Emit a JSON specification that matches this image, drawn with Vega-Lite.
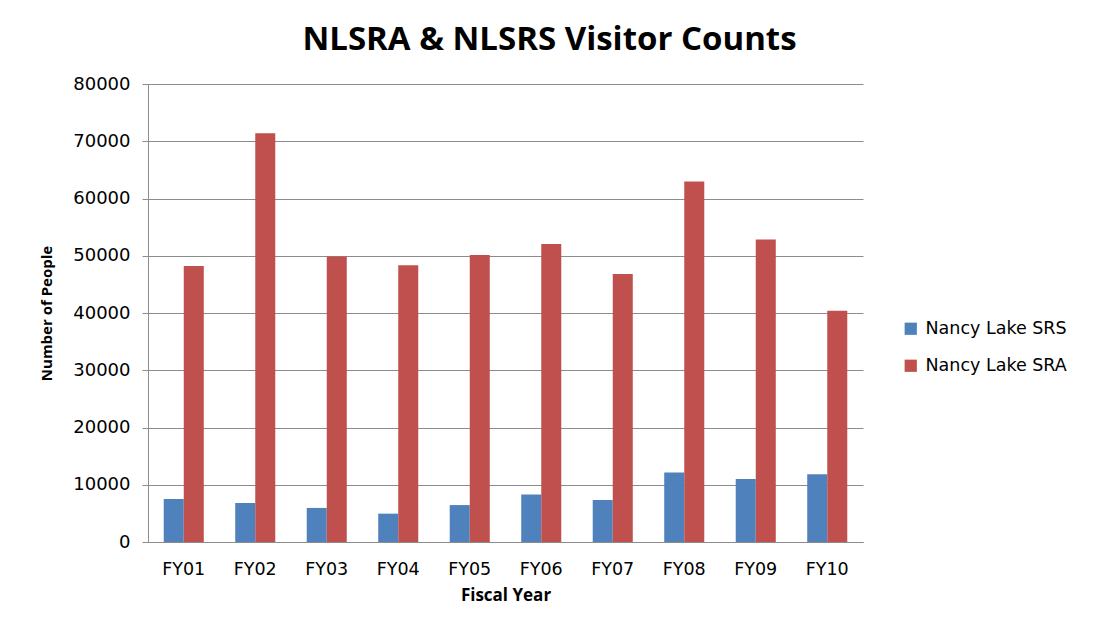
{
  "$schema": "https://vega.github.io/schema/vega-lite/v6.json",
  "autosize": "none",
  "width": 715,
  "height": 458,
  "padding": {"left": 148, "top": 84, "right": 233, "bottom": 89},
  "background": "white",
  "title": {
    "text": "NLSRA & NLSRS Visitor Counts",
    "anchor": "middle",
    "frame": "group",
    "dx": 44,
    "offset": -8,
    "baseline": "alphabetic",
    "font": "Open Sans",
    "fontSize": 33,
    "fontWeight": "bold",
    "color": "#000000"
  },
  "data": {
    "values": [
      {"year": "FY01", "series": "Nancy Lake SRS", "visitors": 7500},
      {"year": "FY01", "series": "Nancy Lake SRA", "visitors": 48200},
      {"year": "FY02", "series": "Nancy Lake SRS", "visitors": 6800},
      {"year": "FY02", "series": "Nancy Lake SRA", "visitors": 71400},
      {"year": "FY03", "series": "Nancy Lake SRS", "visitors": 5950},
      {"year": "FY03", "series": "Nancy Lake SRA", "visitors": 49850},
      {"year": "FY04", "series": "Nancy Lake SRS", "visitors": 4950},
      {"year": "FY04", "series": "Nancy Lake SRA", "visitors": 48350},
      {"year": "FY05", "series": "Nancy Lake SRS", "visitors": 6450},
      {"year": "FY05", "series": "Nancy Lake SRA", "visitors": 50150},
      {"year": "FY06", "series": "Nancy Lake SRS", "visitors": 8300},
      {"year": "FY06", "series": "Nancy Lake SRA", "visitors": 52050},
      {"year": "FY07", "series": "Nancy Lake SRS", "visitors": 7350},
      {"year": "FY07", "series": "Nancy Lake SRA", "visitors": 46800},
      {"year": "FY08", "series": "Nancy Lake SRS", "visitors": 12150},
      {"year": "FY08", "series": "Nancy Lake SRA", "visitors": 62950},
      {"year": "FY09", "series": "Nancy Lake SRS", "visitors": 11000},
      {"year": "FY09", "series": "Nancy Lake SRA", "visitors": 52850},
      {"year": "FY10", "series": "Nancy Lake SRS", "visitors": 11850},
      {"year": "FY10", "series": "Nancy Lake SRA", "visitors": 40400}
    ]
  },
  "mark": {"type": "bar"},
  "encoding": {
    "x": {
      "field": "year",
      "type": "nominal",
      "sort": null,
      "scale": {"paddingInner": 0.44, "paddingOuter": 0.22},
      "axis": {
        "title": "Fiscal Year",
        "labelAngle": 0,
        "labelFont": "DejaVu Sans",
        "labelFontSize": 17.5,
        "labelColor": "#000000",
        "labelPadding": 18,
        "ticks": false,
        "domainColor": "#8c8c8c",
        "titleFont": "Open Sans",
        "titleFontSize": 17,
        "titleFontWeight": "bold",
        "titleColor": "#000000",
        "titlePadding": 10
      }
    },
    "xOffset": {"field": "series", "type": "nominal", "sort": ["Nancy Lake SRS", "Nancy Lake SRA"]},
    "y": {
      "field": "visitors",
      "type": "quantitative",
      "scale": {"domain": [0, 80000], "nice": false},
      "axis": {
        "title": "Number of People",
        "values": [0, 10000, 20000, 30000, 40000, 50000, 60000, 70000, 80000],
        "format": "d",
        "labelFont": "DejaVu Sans",
        "labelFontSize": 18,
        "labelColor": "#000000",
        "labelPadding": 12,
        "tickSize": 6,
        "tickColor": "#8c8c8c",
        "domainColor": "#8c8c8c",
        "gridColor": "#8c8c8c",
        "grid": true,
        "titleFont": "Open Sans",
        "titleFontSize": 15,
        "titleFontWeight": "bold",
        "titleColor": "#000000",
        "titlePadding": 18
      }
    },
    "color": {
      "field": "series",
      "type": "nominal",
      "sort": ["Nancy Lake SRS", "Nancy Lake SRA"],
      "scale": {"domain": ["Nancy Lake SRS", "Nancy Lake SRA"], "range": ["#4F81BD", "#C0504D"]},
      "legend": {
        "title": null,
        "orient": "none",
        "legendX": 754,
        "legendY": 236,
        "symbolType": "square",
        "symbolSize": 150,
        "symbolStrokeWidth": 0,
        "labelFont": "DejaVu Sans",
        "labelFontSize": 17.5,
        "labelColor": "#000000",
        "rowPadding": 18,
        "labelOffset": 6
      }
    }
  },
  "config": {
    "view": {"stroke": null}
  }
}
